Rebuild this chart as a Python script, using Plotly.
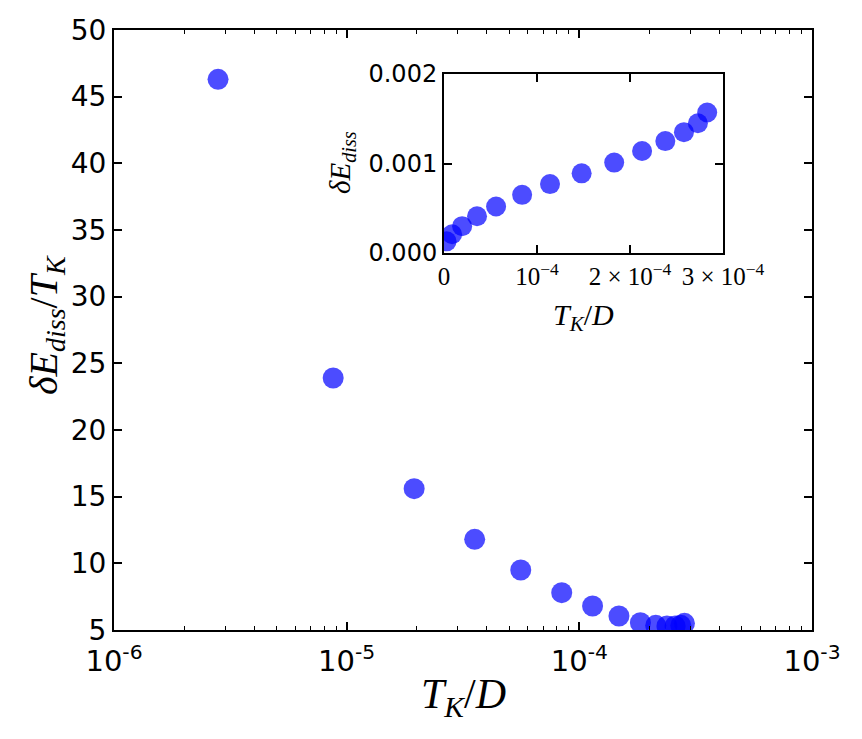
import plotly.graph_objects as go

# ---- data ----
tk_main = [2.8e-6, 8.75e-6, 1.95e-5, 3.55e-5, 5.6e-5, 8.4e-5, 1.14e-4,
           1.48e-4, 1.83e-4, 2.13e-4, 2.38e-4, 2.58e-4, 2.73e-4, 2.83e-4]
ratio_main = [46.3, 23.9, 15.6, 11.8, 9.5, 7.8, 6.8,
              6.05, 5.55, 5.35, 5.3, 5.3, 5.35, 5.5]

tk_inset = [2.8e-6, 8.75e-6, 1.95e-5, 3.55e-5, 5.6e-5, 8.4e-5, 1.14e-4,
            1.48e-4, 1.83e-4, 2.13e-4, 2.38e-4, 2.58e-4, 2.73e-4, 2.83e-4]
ediss_inset = [0.00013, 0.00021, 0.0003, 0.00041, 0.00052, 0.00065, 0.00077,
               0.00089, 0.00101, 0.00114, 0.00125, 0.00135, 0.00145, 0.00157]

main_x_ticks = [1e-6, 1e-5, 1e-4, 1e-3]
main_x_text = ["10<sup>-6</sup>", "10<sup>-5</sup>", "10<sup>-4</sup>", "10<sup>-3</sup>"]
main_x_minor = [k * 10.0 ** e for e in (-6, -5, -4) for k in range(2, 10)]
main_y_ticks = [5, 10, 15, 20, 25, 30, 35, 40, 45, 50]

inset_x_ticks = [0, 1e-4, 2e-4, 3e-4]
inset_x_text = ["0", "10<sup>−4</sup>", "2 × 10<sup>−4</sup>", "3 × 10<sup>−4</sup>"]
inset_y_ticks = [0, 0.001, 0.002]
inset_y_text = ["0.000", "0.001", "0.002"]

W, H = 862, 739
MARKER = "rgba(0,0,255,0.7)"
SANS = "DejaVu Sans"
SERIF = "Liberation Serif"

fig = go.Figure()
fig.add_trace(go.Scatter(x=tk_main, y=ratio_main, mode="markers",
                         marker=dict(size=21, color=MARKER, line=dict(width=0)),
                         xaxis="x", yaxis="y", showlegend=False))
fig.add_trace(go.Scatter(x=tk_inset, y=ediss_inset, mode="markers",
                         marker=dict(size=20, color=MARKER, line=dict(width=0)),
                         xaxis="x2", yaxis="y2", showlegend=False))

axis_common = dict(showline=True, linecolor="black", linewidth=2, mirror="ticks",
                   ticks="inside", tickcolor="black", tickwidth=1.5, ticklen=8,
                   showgrid=False, zeroline=False, automargin=False)

fig.update_layout(
    width=W, height=H,
    margin=dict(l=0, r=0, t=0, b=0, autoexpand=False),
    paper_bgcolor="white", plot_bgcolor="white",
    xaxis=dict(type="log", range=[-6, -3], domain=[114 / W, 812 / W], anchor="y",
               tickvals=main_x_ticks, ticktext=main_x_text, ticklabelstandoff=4,
               tickfont=dict(family=SANS, size=29, color="black"),
               minor=dict(ticks="inside", ticklen=4, tickwidth=1, tickcolor="black",
                          tickvals=main_x_minor),
               **axis_common),
    yaxis=dict(range=[5, 50], domain=[1 - 630 / H, 1 - 30 / H], anchor="x",
               tickvals=main_y_ticks,
               tickfont=dict(family=SANS, size=28, color="black"),
               **axis_common),
    xaxis2=dict(range=[0, 3e-4], domain=[444 / W, 723 / W], anchor="y2",
                tickvals=inset_x_ticks, ticktext=inset_x_text,
                tickfont=dict(family=SERIF, size=25, color="black"),
                **axis_common),
    yaxis2=dict(range=[0, 0.002], domain=[1 - 253 / H, 1 - 74 / H], anchor="x2",
                tickvals=inset_y_ticks, ticktext=inset_y_text,
                tickfont=dict(family=SANS, size=24, color="black"),
                **axis_common),
    annotations=[
        dict(text="<i>T</i><sub><i>K</i></sub>/<i>D</i>", xref="paper", yref="paper",
             x=463 / W, y=1 - 697 / H, xanchor="center", yanchor="middle",
             showarrow=False, font=dict(family=SERIF, size=42, color="black")),
        dict(text="<i>δE</i><sub><i>diss</i></sub>/<i>T</i><sub><i>K</i></sub>",
             xref="paper", yref="paper", x=46 / W, y=1 - 325 / H,
             xanchor="center", yanchor="middle", textangle=-90,
             showarrow=False, font=dict(family=SERIF, size=40, color="black")),
        dict(text="<i>T</i><sub><i>K</i></sub>/<i>D</i>", xref="paper", yref="paper",
             x=583 / W, y=1 - 317 / H, xanchor="center", yanchor="middle",
             showarrow=False, font=dict(family=SERIF, size=30, color="black")),
        dict(text="<i>δE</i><sub><i>diss</i></sub>",
             xref="paper", yref="paper", x=342 / W, y=1 - 163 / H,
             xanchor="center", yanchor="middle", textangle=-90,
             showarrow=False, font=dict(family=SERIF, size=29, color="black")),
    ],
)

fig.write_html("out.html")
